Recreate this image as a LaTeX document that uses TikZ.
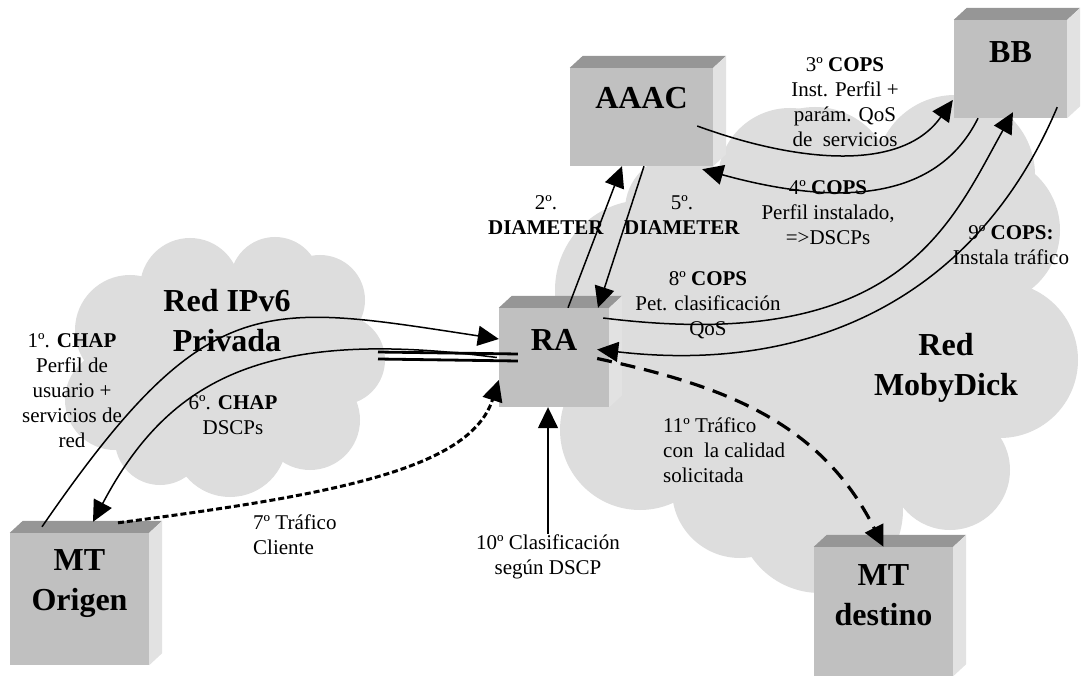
\documentclass[tikz,border=0pt]{standalone}
\usepackage{fontspec}
\setmainfont{Liberation Serif}
\usetikzlibrary{arrows.meta}

\definecolor{nube}{RGB}{221,221,221}
\definecolor{cara}{RGB}{192,192,192}
\definecolor{techo}{RGB}{150,150,150}
\definecolor{lado}{RGB}{226,226,226}

\newcommand{\cubo}[1]{%
  \fill[techo] (#1.north west) -- ++(13,-12) -- ([shift={(13,-12)}]#1.north east) -- (#1.north east) -- cycle;
  \fill[lado] (#1.north east) -- ++(13,-12) -- ([shift={(13,-12)}]#1.south east) -- (#1.south east) -- cycle;
}

\begin{document}
\begin{tikzpicture}[x=1pt,y=-1pt,
  punta/.tip={Triangle[length=21pt 0 0,width=20pt 0 0]},
  caja/.style={fill=cara,inner sep=0pt},
  nombre/.style={font=\fontsize{32}{40}\selectfont\bfseries,align=center,inner sep=0pt},
  texto/.style={font=\fontsize{21}{25}\selectfont,align=center,inner sep=1pt},
  flecha/.style={-punta,line width=1.5pt},
  punteada/.style={-punta,line width=3pt,dash pattern=on 6pt off 3pt},
  rayada/.style={-punta,line width=3.2pt,dash pattern=on 15pt off 9pt},
  enlace/.style={line width=2.8pt}]
\useasboundingbox (0,0) rectangle (1090,676);

\fill[nube] (230,360) circle[radius=90pt];
\fill[nube] (130,330) circle[radius=55pt];
\fill[nube] (115,400) circle[radius=50pt];
\fill[nube] (190,288) circle[radius=50pt];
\fill[nube] (275,282) circle[radius=45pt];
\fill[nube] (320,300) circle[radius=45pt];
\fill[nube] (340,360) circle[radius=45pt];
\fill[nube] (310,420) circle[radius=50pt];
\fill[nube] (230,440) circle[radius=57pt];
\fill[nube] (160,440) circle[radius=45pt];

\fill[nube] (820,340) circle[radius=160pt];
\fill[nube] (645,290) circle[radius=90pt];
\fill[nube] (680,210) circle[radius=55pt];
\fill[nube] (790,180) circle[radius=72pt];
\fill[nube] (815,185) circle[radius=78pt];
\fill[nube] (955,175) circle[radius=80pt];
\fill[nube] (985,230) circle[radius=75pt];
\fill[nube] (1000,360) circle[radius=78pt];
\fill[nube] (950,470) circle[radius=60pt];
\fill[nube] (640,430) circle[radius=80pt];
\fill[nube] (740,490) circle[radius=68pt];
\fill[nube] (820,510) circle[radius=83pt];

\node[caja,minimum width=143pt,minimum height=98pt] (aaac) at (641.5,117) {};
\node[caja,minimum width=113pt,minimum height=98pt] (bb) at (1010.5,69) {};
\node[caja,minimum width=110pt,minimum height=99pt] (ra) at (554,357.5) {};
\node[caja,minimum width=139pt,minimum height=132pt] (mto) at (79.5,599) {};
\node[caja,minimum width=139pt,minimum height=129pt] (mtd) at (883.5,611.5) {};
\cubo{aaac}
\cubo{bb}
\cubo{ra}
\cubo{mto}
\cubo{mtd}

\node[nombre] (aaac-t) at ([yshift=-30pt]aaac.north) {AAAC};
\node[nombre] (bb-t) at ([yshift=-32pt]bb.north) {BB};
\node[nombre] (ra-t) at ([yshift=-32pt]ra.north) {RA};
\node[nombre] (mto-t) at ([yshift=-51pt]mto.north) {MT\\Origen};
\node[nombre] (mtd-t) at ([yshift=-48pt]mtd.north) {MT\\destino};
\node[nombre] (red6) at (227,321) {Red IPv6\\Privada};
\node[nombre] (redmd) at (946,368) {Red\\MobyDick};

\node[texto] (t1) at (72,391) {1º. \textbf{CHAP}\\Perfil de\\usuario +\\servicios de\\red};
\node[texto] (t2) at (546,215) {2º.\\\textbf{DIAMETER}};
\node[texto] (t3) at (845,102) {3º \textbf{COPS}\\Inst. Perfil +\\parám. QoS\\de\ \ servicios};
\node[texto] (t4) at (828,213) {4º \textbf{COPS}\\Perfil instalado,\\=>DSCPs};
\node[texto] (t5) at (682,215) {5º.\\\textbf{DIAMETER}};
\node[texto] (t6) at (233,415) {6º. \textbf{CHAP}\\DSCPs};
\node[texto,align=left,anchor=west] (t7) at (252,535) {7º Tráfico\\Cliente};
\node[texto] (t8) at (708,305) {8º \textbf{COPS}\\Pet. clasificación\\QoS};
\node[texto] (t9) at (1011,245) {9º \textbf{COPS:}\\Instala tráfico};
\node[texto] (t10) at (548,557) {10º Clasificación\\según DSCP};
\node[texto,align=left,anchor=west] (t11) at (662,450) {11º Tráfico\\con\ \ la calidad\\solicitada};

\coordinate (e6) at (378,355.5);
\draw[enlace] ([shift={(0,-3.5)}]e6) -- ([shift={(19,-3.5)}]ra.west);
\draw[enlace] ([shift={(0,3.5)}]e6) -- ([shift={(19,3.5)}]ra.west);

\draw[flecha] ([shift={(-37.5,-6)}]mto.north) .. controls (207,287) and (262,303) .. ([shift={(0,-18.5)}]ra.west);
\draw[flecha] ([shift={(14,0)}]ra.north) -- ([shift={(-19.5,0)}]aaac.south);
\draw[flecha] ([shift={(-16,9)}]aaac.east) .. controls (790,160) and (900,175) .. ([shift={(-1,31)}]bb.west);
\draw[flecha] ([shift={(-32.5,0)}]bb.south) .. controls (940,195) and (850,210) .. ([shift={(-11,3)}]aaac.south east);
\draw[flecha] ([shift={(2.5,0)}]aaac.south) -- ([shift={(44,0)}]ra.north);
\draw[flecha] ([shift={(-2,0)}]ra.west) .. controls (266,327) and (169,378) .. ([shift={(13.5,-11)}]mto.north);
\draw[punteada] ([shift={(38.5,-10)}]mto.north) .. controls (330,495) and (470,470) .. ([shift={(0,22.5)}]ra.west);
\draw[flecha] ([shift={(-6,-39.5)}]ra.east) .. controls (900,355) and (950,225) .. ([shift={(2.5,-6)}]bb.south);
\draw[flecha] ([shift={(-10,-11)}]bb.south east) .. controls (980,290) and (820,375) .. ([shift={(-12,-8)}]ra.east);
\draw[flecha] (t10.north) -- (t10.north |- ra.south);
\draw[rayada] ([shift={(-12,1)}]ra.east) .. controls (720,385) and (820,420) .. (mtd.north);
\end{tikzpicture}
\end{document}
